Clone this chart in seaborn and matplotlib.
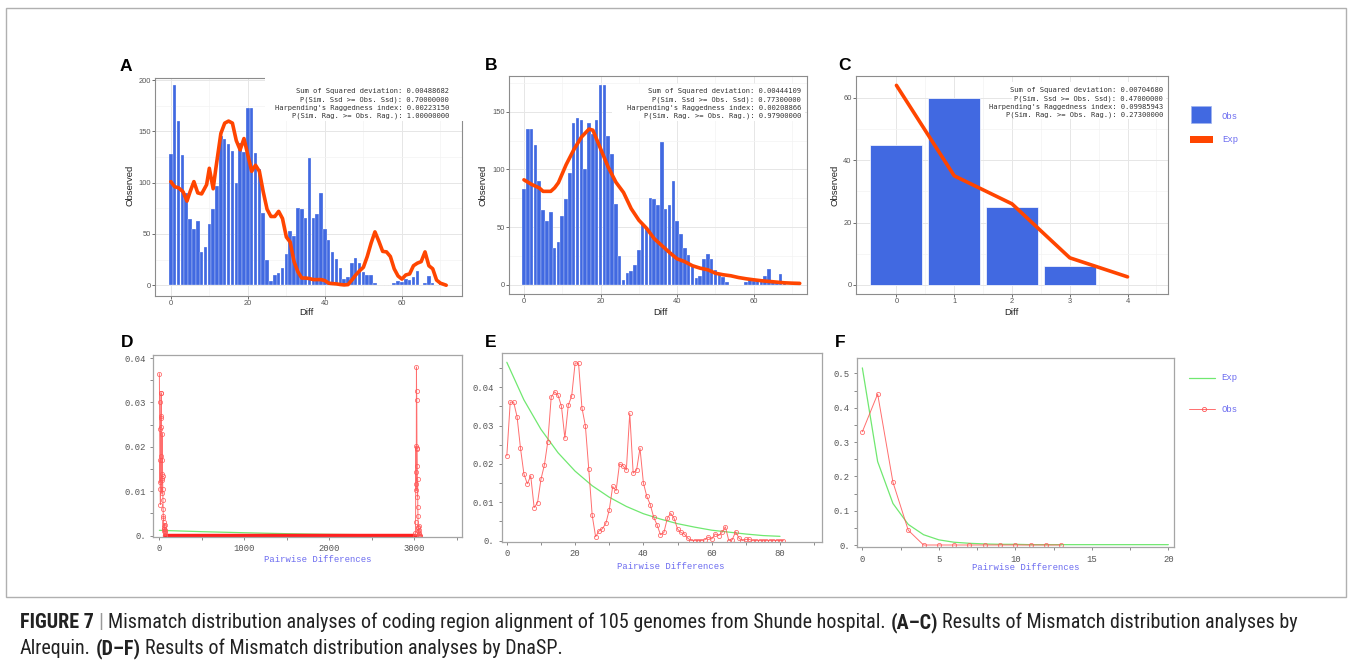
import matplotlib
matplotlib.use("Agg")
import matplotlib.pyplot as plt
import seaborn as sns
from matplotlib.patches import Rectangle
from matplotlib.lines import Line2D
from matplotlib import font_manager as fm

# ---------------- data ----------------
a_diff = list(range(71))
a_obs = [128, 195, 160, 127, 90, 65, 55, 63, 32, 37, 60, 74, 97, 145, 143, 138, 131, 100, 139, 130,
         173, 173, 129, 113, 70, 25, 4, 10, 12, 17, 30, 53, 48, 75, 74, 66, 124, 66, 69, 90,
         55, 44, 32, 26, 17, 6, 8, 22, 27, 22, 13, 10, 10, 2, 0, 0, 0, 0, 2, 4,
         3, 6, 5, 8, 14, 0, 2, 9, 2, 0, 2]
a_exp_x = [0, 1, 2, 3.2, 4.2, 5, 6, 7, 8, 9.3, 10, 11, 11.7,
           13, 14, 15, 16, 17, 18, 19, 20, 21, 22, 23, 24, 25, 26, 27, 28, 29, 30, 31, 32,
           33, 34, 35, 36, 37, 38, 39, 40, 41, 42, 43, 44, 45, 46, 47, 48, 49, 50, 51, 52,
           53, 54, 55, 56, 57, 58, 59, 60, 61, 62, 63, 64, 65, 66, 67, 68, 69, 70, 71.5]
a_exp_y = [101, 96, 95, 91, 82, 91, 101, 90, 89, 98, 114, 94, 114,
           148, 158, 160, 158, 141, 132, 143, 127, 111, 117, 111, 91, 74, 67, 67, 72, 65, 47, 42, 23,
           13, 7, 7, 6.5, 5.5, 5.5, 5.5, 4.5, 2, 1.6, 1.3, 0.7, 0.3, 0.6, 5, 10, 14, 17.5, 28, 41,
           52, 43, 33, 32.5, 28, 16, 9, 6, 10, 11, 19, 21.5, 23, 32.5, 19, 16, 5, 2, 0]
a_stats = ["Sum of Squared deviation: 0.00488682",
           "P(Sim. Ssd >= Obs. Ssd): 0.70000000",
           "Harpending's Raggedness index: 0.00223150",
           "P(Sim. Rag. >= Obs. Rag.): 1.00000000"]

b_diff = list(range(71))
b_obs = [83, 135, 135, 121, 90, 65, 55, 63, 32, 37, 60, 74, 97, 140, 145, 143, 100, 140, 131, 143,
         173, 173, 129, 113, 70, 25, 4, 10, 12, 17, 30, 53, 50, 75, 74, 69, 124, 66, 69, 90,
         55, 44, 32, 26, 17, 6, 8, 22, 27, 22, 13, 10, 7, 2, 0, 0, 0, 0, 2, 4,
         3, 4, 5, 8, 14, 2, 2, 9, 2, 0, 0]
b_exp_x = [0, 2, 4, 5, 7, 8, 9, 11, 13, 15, 17, 18, 20, 22, 24, 26, 28, 30, 32, 34, 36, 38,
           40, 42, 44, 46, 48, 50, 52, 54, 56, 58, 60, 62, 64, 66, 68, 70, 72]
b_exp_y = [91, 87, 84, 81, 81, 84, 88.5, 104, 117, 128, 135, 134, 118, 102, 89, 80, 66, 56, 49, 40,
           34, 28, 22.5, 20, 16.5, 14.4, 13, 10, 8.7, 7.8, 6.3, 5.2, 4.3, 3.5, 2.9, 2.3, 1.7, 1.4, 1.2]
b_stats = ["Sum of Squared deviation: 0.00444109",
           "P(Sim. Ssd >= Obs. Ssd): 0.77300000",
           "Harpending's Raggedness index: 0.00208866",
           "P(Sim. Rag. >= Obs. Rag.): 0.97900000"]

c_diff = [0, 1, 2, 3]
c_obs = [45, 60, 25, 6]
c_exp_x = [0, 1, 2, 3, 4]
c_exp_y = [64, 35, 26, 8.7, 2.6]
c_stats = ["Sum of Squared deviation: 0.00704680",
           "P(Sim. Ssd >= Obs. Ssd): 0.47000000",
           "Harpending's Raggedness index: 0.09985943",
           "P(Sim. Rag. >= Obs. Rag.): 0.27300000"]

d_obs_left_x = list(range(0, 73, 2))
d_obs_left_y = [0.0365, 0.030, 0.024, 0.012, 0.017, 0.0105, 0.007, 0.027, 0.0245, 0.0265,
                0.0322, 0.0322, 0.018, 0.014, 0.013, 0.0095, 0.0125, 0.023, 0.017, 0.0135,
                0.0105, 0.008, 0.006, 0.0045, 0.004, 0.003, 0.0025, 0.002, 0.0015, 0.001,
                0.0015, 0.0025, 0.001, 0.0012, 0.0005, 0.0002, 0.0]
d_band_x = [72, 3010]
d_band_y = [0.0, 0.0]
d_obs_right_x = list(range(3010, 3072, 2))
d_obs_right_y = [0.0, 0.0005, 0.003, 0.0143, 0.0116, 0.0202, 0.0102, 0.038, 0.0327, 0.0305,
                 0.0198, 0.0195, 0.0158, 0.0088, 0.0128, 0.0065, 0.0045, 0.002, 0.0018, 0.001,
                 0.0022, 0.0012, 0.0005, 0.0003, 0.0002, 0.0, 0.0, 0.0, 0.0, 0.0, 0.0]
d_exp_x = [0, 250, 500, 750, 1000, 1250, 1500, 1750, 2000, 2500, 3000, 3070]
d_exp_y = [0.0012, 0.00105, 0.0009, 0.00078, 0.00066, 0.00055, 0.00045, 0.00037, 0.0003,
           0.0002, 0.00012, 0.0001]

e_obs_x = list(range(82))
e_obs_y = [0.0221, 0.0361, 0.0361, 0.0323, 0.0241, 0.0174, 0.0148, 0.0169, 0.0086, 0.0099,
           0.016, 0.0197, 0.0258, 0.0374, 0.0388, 0.0379, 0.035, 0.0267, 0.0353, 0.0377,
           0.0463, 0.0463, 0.0346, 0.030, 0.0186, 0.0066, 0.001, 0.0025, 0.0031, 0.0045,
           0.008, 0.0141, 0.013, 0.020, 0.0195, 0.0184, 0.0332, 0.0176, 0.0184, 0.0241,
           0.015, 0.0115, 0.0094, 0.0061, 0.0041, 0.0015, 0.0021, 0.0058, 0.0071, 0.0058,
           0.003, 0.0021, 0.0017, 0.0006, 0.0, 0.0, 0.0, 0.0, 0.0002, 0.0009,
           0.0004, 0.0017, 0.0013, 0.0021, 0.0036, 0.0, 0.0002, 0.0023, 0.0006, 0.0,
           0.0003, 0.0003, 0.0, 0.0, 0.0, 0.0, 0.0, 0.0, 0.0, 0.0, 0.0, 0.0]
e_exp_x = list(range(0, 81, 5))
e_exp_y = [0.0465, 0.0367, 0.0290, 0.0229, 0.0181, 0.0143, 0.0113, 0.0089, 0.0070, 0.0056,
           0.0044, 0.0035, 0.0027, 0.0022, 0.0017, 0.0013, 0.0011]

f_obs_x = list(range(14))
f_obs_y = [0.33, 0.44, 0.183, 0.043, 0, 0, 0, 0, 0, 0, 0, 0, 0, 0]
f_exp_x = list(range(21))
f_exp_y = [0.516, 0.243, 0.121, 0.060, 0.030, 0.015, 0.008, 0.005, 0.003, 0.002, 0.002,
           0.001, 0.001, 0.001, 0.001, 0.001, 0.001, 0.001, 0.001, 0.001, 0.001]

caption1 = [("FIGURE 7", "bold", "#222222"), (" ", None, None), ("|", "normal", "#999999"),
            (" ", None, None),
            ("Mismatch distribution analyses of coding region alignment of 105 genomes from Shunde hospital.",
             "normal", "#222222"), (" ", None, None), ("(A\u2013C)", "bold", "#222222"), (" ", None, None),
            ("Results of Mismatch distribution analyses by", "normal", "#222222")]
caption2 = [("Alrequin.", "normal", "#222222"), (" ", None, None), ("(D\u2013F)", "bold", "#222222"),
            (" ", None, None), ("Results of Mismatch distribution analyses by DnaSP.", "normal", "#222222")]

# ---------------- setup ----------------
sns.set_theme(style="white")
plt.rcParams["font.family"] = ["Liberation Sans", "DejaVu Sans"]
W, H = 1352, 664
fig = plt.figure(figsize=(W / 100, H / 100), dpi=100)
fig.patch.set_facecolor("white")

names = {f.name for f in fm.fontManager.ttflist}
MONO = "Liberation Mono" if "Liberation Mono" in names else "DejaVu Sans Mono"


def _wnum(w):
    if isinstance(w, (int, float)):
        return int(w)
    return {"normal": 400, "regular": 400, "book": 400, "bold": 700}.get(str(w).lower(), 400)


def find_condensed():
    groups = {}
    for f in fm.fontManager.ttflist:
        st = str(f.stretch).lower()
        cond = ("narrow" in f.name.lower() or "condensed" in f.name.lower()
                or st in ("condensed", "semi-condensed", "75", "87.5"))
        if not cond or f.style != "normal":
            continue
        if "extra" in f.name.lower() or "ultra" in f.name.lower() or "mono" in f.name.lower():
            continue
        key = (f.name, st)
        groups.setdefault(key, {})
        w = _wnum(f.weight)
        if w in (400, 700):
            groups[key].setdefault(w, f.fname)
    pref = ["Liberation Sans Narrow", "Roboto Condensed", "Open Sans Condensed", "Noto Sans Condensed",
            "DejaVu Sans Condensed", "Noto Sans", "DejaVu Sans", "Open Sans", "Roboto"]
    for p in pref:
        for key, d in groups.items():
            if key[0] == p and 400 in d and 700 in d:
                return d[400], d[700]
    for key, d in groups.items():
        if 400 in d and 700 in d:
            return d[400], d[700]
    return None


cond = find_condensed()
if cond:
    CAP_REG = fm.FontProperties(fname=cond[0])
    CAP_BOLD = fm.FontProperties(fname=cond[1])
else:
    CAP_REG = fm.FontProperties(family="Liberation Sans", weight="normal")
    CAP_BOLD = fm.FontProperties(family="Liberation Sans", weight="bold")


def fx(p):
    return p / W


def fy(p):
    return 1 - p / H


def add_ax(l, t, r, b):
    return fig.add_axes([fx(l), fy(b), (r - l) / W, (b - t) / H])


BLUE = "#4169E1"
ORANGE = "#FF4500"
GREEN = "#70e870"
RED = "#ff5555"
LBLUE = "#6b6bf0"


def gg_style(ax, xlim, ylim, xmaj, xmin, ymaj, ymin):
    ax.set_xlim(*xlim)
    ax.set_ylim(*ylim)
    ax.set_xticks(xmaj)
    ax.set_xticks(xmin, minor=True)
    ax.set_yticks(ymaj)
    ax.set_yticks(ymin, minor=True)
    ax.set_xticklabels([str(v) for v in xmaj])
    ax.set_yticklabels([str(v) for v in ymaj])
    ax.grid(True, which="major", color="#e6e6e6", lw=0.7)
    ax.grid(True, which="minor", color="#f3f3f3", lw=0.5)
    ax.set_axisbelow(True)
    for s in ax.spines.values():
        s.set_visible(True)
        s.set_color("#8c8c8c")
        s.set_linewidth(0.8)
    ax.tick_params(which="major", bottom=True, left=True, length=2, width=0.6, color="#555555",
                   labelsize=5.4, labelcolor="#555555", pad=1.2)
    ax.tick_params(which="minor", bottom=False, left=False, length=0)
    ax.set_xlabel("")
    ax.set_ylabel("")


def dna_style(ax, xlim, ylim, xmaj, xlab, xmin, ymaj, ylab, ymin):
    ax.set_xlim(*xlim)
    ax.set_ylim(*ylim)
    ax.set_xticks(xmaj)
    ax.set_xticklabels(xlab)
    ax.set_xticks(xmin, minor=True)
    ax.set_yticks(ymaj)
    ax.set_yticklabels(ylab)
    ax.set_yticks(ymin, minor=True)
    ax.grid(False)
    for s in ax.spines.values():
        s.set_visible(True)
        s.set_color("#a5a5a5")
        s.set_linewidth(0.9)
    ax.tick_params(which="both", bottom=True, left=True, direction="out", length=2.2,
                   width=0.6, color="#777777")
    ax.tick_params(which="major", labelsize=6.4, labelcolor="#555555", pad=3)
    for lab in ax.get_xticklabels() + ax.get_yticklabels():
        lab.set_family(MONO)
    ax.set_xlabel("")
    ax.set_ylabel("")


def stats_text(lines, right, ys):
    for line, y in zip(lines, ys):
        fig.text(fx(right), fy(y), line, ha="right", va="center", fontsize=5.1,
                 family="DejaVu Sans Mono", color="#333333", zorder=7)


def white_box(l, t, r, b):
    fig.add_artist(Rectangle((fx(l), fy(b)), (r - l) / W, (b - t) / H, transform=fig.transFigure,
                             facecolor="white", edgecolor="none", zorder=6))


# ---------------- panel A ----------------
axA = add_ax(155, 78, 462, 296)
sns.barplot(x=a_diff, y=a_obs, native_scale=True, color=BLUE, saturation=1, width=0.92,
            edgecolor="white", linewidth=0.2, errorbar=None, ax=axA)
sns.lineplot(x=a_exp_x, y=a_exp_y, color=ORANGE, lw=2.6, estimator=None, sort=False, ax=axA)
gg_style(axA, (-4.1, 75.6), (-10.5, 202), [0, 20, 40, 60], [10, 30, 50, 70],
         [0, 50, 100, 150, 200], [25, 75, 125, 175])
white_box(265, 73, 466, 121)
stats_text(a_stats, 449, [91, 99.3, 107.7, 116])

# ---------------- panel B ----------------
axB = add_ax(509, 76, 807, 294)
sns.barplot(x=b_diff, y=b_obs, native_scale=True, color=BLUE, saturation=1, width=0.92,
            edgecolor="white", linewidth=0.2, errorbar=None, ax=axB)
sns.lineplot(x=b_exp_x, y=b_exp_y, color=ORANGE, lw=2.6, estimator=None, sort=False, ax=axB)
gg_style(axB, (-3.9, 73.9), (-8, 181), [0, 20, 40, 60], [10, 30, 50, 70],
         [0, 50, 100, 150], [25, 75, 125, 175])
white_box(612, 84, 805, 121)
stats_text(b_stats, 801, [91, 99.3, 107.7, 116])

# ---------------- panel C ----------------
axC = add_ax(856, 76, 1168, 294)
sns.barplot(x=c_diff, y=c_obs, native_scale=True, color=BLUE, saturation=1, width=0.9,
            edgecolor="white", linewidth=0.5, errorbar=None, ax=axC)
sns.lineplot(x=c_exp_x, y=c_exp_y, color=ORANGE, lw=2.6, estimator=None, sort=False, ax=axC)
gg_style(axC, (-0.7, 4.7), (-2.9, 67), [0, 1, 2, 3, 4], [0.5, 1.5, 2.5, 3.5, 4.5],
         [0, 20, 40, 60], [10, 30, 50])
white_box(1012, 82, 1166, 119)
stats_text(c_stats, 1163, [90, 98.3, 106.7, 114.3])

# legend for C
fig.add_artist(Rectangle((fx(1190.7), fy(122.7)), 20 / W, 16.7 / H, transform=fig.transFigure,
                         facecolor=BLUE, edgecolor="#9fb3f0", lw=0.5))
fig.add_artist(Rectangle((fx(1190), fy(142.7)), 23 / W, 7 / H, transform=fig.transFigure,
                         facecolor=ORANGE, edgecolor="none"))
fig.text(fx(1222), fy(116.7), "Obs", family=MONO, fontsize=6.5, color=LBLUE, va="center")
fig.text(fx(1222), fy(140), "Exp", family=MONO, fontsize=6.5, color=LBLUE, va="center")

# axis titles for top row
for xl, xd in [(130, 306.7), (483.3, 660), (835, 1011.7)]:
    fig.text(fx(xl), fy(185), "Observed", rotation=90, ha="center", va="center",
             fontsize=6.8, color="#222222")
    fig.text(fx(xd), fy(312), "Diff", ha="center", va="center", fontsize=6.8, color="#222222")

# ---------------- panel D ----------------
obs_kw = dict(color=RED, lw=0.7, alpha=0.85, marker="o", markersize=3.0,
              markerfacecolor="none", markeredgecolor=RED, markeredgewidth=0.6,
              estimator=None, sort=False)
axD = add_ax(153, 355, 462, 537)
sns.lineplot(x=d_exp_x, y=d_exp_y, color=GREEN, lw=0.9, estimator=None, ax=axD)
sns.lineplot(x=d_band_x, y=d_band_y, color="#ff2020", lw=3.2, estimator=None, ax=axD)
sns.lineplot(x=d_obs_left_x, y=d_obs_left_y, ax=axD, **obs_kw)
sns.lineplot(x=d_obs_right_x, y=d_obs_right_y, ax=axD, **obs_kw)
dna_style(axD, (-75, 3560), (-0.0003, 0.0407),
          [0, 1000, 2000, 3000], ["0", "1000", "2000", "3000"], [500, 1500, 2500, 3500],
          [0, 0.01, 0.02, 0.03, 0.04], ["0.", "0.01", "0.02", "0.03", "0.04"],
          [0.005, 0.015, 0.025, 0.035])

# ---------------- panel E ----------------
axE = add_ax(501.7, 352.7, 822, 541.7)
sns.lineplot(x=e_exp_x, y=e_exp_y, color=GREEN, lw=0.9, estimator=None, ax=axE)
sns.lineplot(x=e_obs_x, y=e_obs_y, ax=axE, **obs_kw)
dna_style(axE, (-1.5, 92.3), (-0.0003, 0.049),
          [0, 20, 40, 60, 80], ["0", "20", "40", "60", "80"], [10, 30, 50, 70, 90],
          [0, 0.01, 0.02, 0.03, 0.04], ["0.", "0.01", "0.02", "0.03", "0.04"],
          [0.005, 0.015, 0.025, 0.035, 0.045])

# ---------------- panel F ----------------
axF = add_ax(857.3, 358.3, 1174, 547.3)
sns.lineplot(x=f_exp_x, y=f_exp_y, color=GREEN, lw=0.9, estimator=None, ax=axF)
sns.lineplot(x=f_obs_x, y=f_obs_y, ax=axF, **obs_kw)
dna_style(axF, (-0.33, 20.37), (-0.0067, 0.544),
          [0, 5, 10, 15, 20], ["0", "5", "10", "15", "20"], [2.5, 7.5, 12.5, 17.5],
          [0, 0.1, 0.2, 0.3, 0.4, 0.5], ["0.", "0.1", "0.2", "0.3", "0.4", "0.5"],
          [0.05, 0.15, 0.25, 0.35, 0.45])

# legend F
fig.add_artist(Line2D([fx(1189), fx(1215)], [fy(378), fy(378)], transform=fig.transFigure,
                      color=GREEN, lw=0.9))
fig.add_artist(Line2D([fx(1189), fx(1215)], [fy(409), fy(409)], transform=fig.transFigure,
                      color=RED, lw=0.7, alpha=0.85))
fig.add_artist(Line2D([fx(1204)], [fy(409)], transform=fig.transFigure, color=RED, marker="o",
                      markersize=3.0, markerfacecolor="none", markeredgewidth=0.6, lw=0))
fig.text(fx(1221), fy(378), "Exp", family=MONO, fontsize=6.5, color=LBLUE, va="center")
fig.text(fx(1221), fy(409), "Obs", family=MONO, fontsize=6.5, color=LBLUE, va="center")

# x labels bottom row
for xc, yc in [(318, 560), (670.5, 566.5), (1026, 568)]:
    fig.text(fx(xc), fy(yc), "Pairwise Differences", family=MONO, fontsize=6.4, color=LBLUE,
             ha="center", va="center")

# panel letters
for lab, x, yb in [("A", 120, 71), ("B", 485, 70), ("C", 838, 70),
                   ("D", 121, 346.7), ("E", 485, 346.7), ("F", 835, 346.7)]:
    fig.text(fx(x), fy(yb), lab, fontsize=12.5, fontweight="bold", color="black",
             va="baseline", ha="left")

# figure frame
fig.add_artist(Rectangle((fx(6), fy(597)), 1340 / W, 589 / H, transform=fig.transFigure,
                         facecolor="none", edgecolor="#b0b0b0", lw=1.0, zorder=0))

# ---------------- caption ----------------
renderer = fig.canvas.get_renderer()


def fp(weight, size):
    p = (CAP_BOLD if weight == "bold" else CAP_REG).copy()
    p.set_size(size)
    return p


def measure(txt, size, weight):
    t = fig.text(0, 0, txt, fontproperties=fp(weight, size))
    w = t.get_window_extent(renderer).width
    t.remove()
    return w


def line_width(pieces, size):
    sp = measure("a a", size, "normal") - measure("aa", size, "normal")
    tot = 0
    for txt, weight, color in pieces:
        tot += sp if weight is None else measure(txt, size, weight)
    return tot


def place(pieces, x0, yb, size):
    sp = measure("a a", size, "normal") - measure("aa", size, "normal")
    x = x0
    for txt, weight, color in pieces:
        if weight is None:
            x += sp
            continue
        t = fig.text(fx(x), fy(yb), txt, fontproperties=fp(weight, size), color=color,
                     va="baseline", ha="left")
        x += t.get_window_extent(renderer).width


s0 = 11.5
w0 = line_width(caption1, s0)
cap_size = min(s0 * 1280 / w0, 15.5)
place(caption1, 20, 628, cap_size)
place(caption2, 20, 654, cap_size)

fig.savefig("out.png", dpi=100, facecolor="white")
